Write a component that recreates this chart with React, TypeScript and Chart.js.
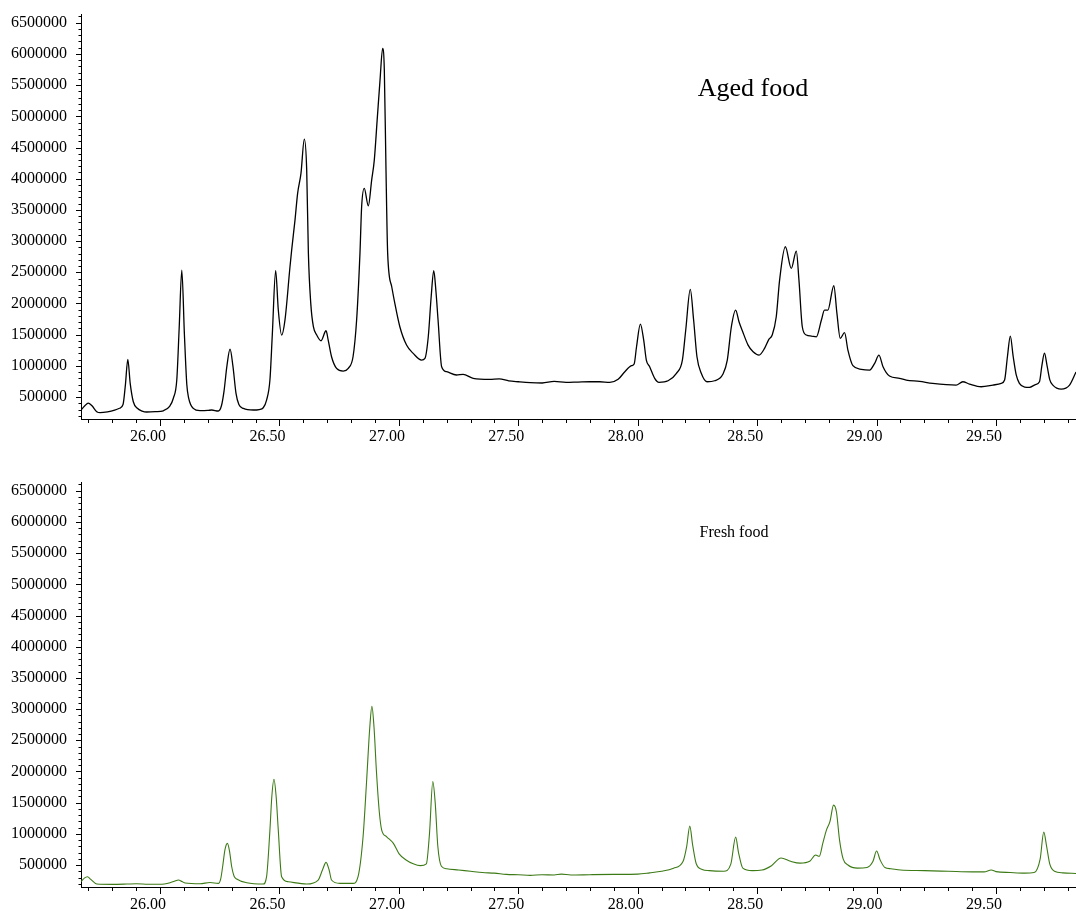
import { useEffect, useRef } from 'react';
import { Chart, registerables } from 'chart.js';

Chart.register(...registerables);

// ---- axes ----
const X_MIN = 25.669;
const X_MAX = 29.835;
const Y_MIN = 148000;
const Y_MAX = 6640000;
const X_TICKS = [26.0, 26.5, 27.0, 27.5, 28.0, 28.5, 29.0, 29.5];
const Y_TICKS = [500000, 1000000, 1500000, 2000000, 2500000, 3000000, 3500000, 4000000, 4500000, 5000000, 5500000, 6000000, 6500000];

// ---- Aged food (top panel) ----
const agedTime = [
  25.669, 25.685, 25.699, 25.715, 25.735, 25.749, 25.78, 25.81, 25.83, 25.845, 25.855, 25.865, 25.875, 25.888, 25.905, 25.925, 25.944, 25.98,
  26.014, 26.04, 26.056, 26.07, 26.08, 26.091, 26.102, 26.112, 26.12, 26.139, 26.167, 26.2, 26.216, 26.244, 26.257, 26.268, 26.28, 26.293,
  26.305, 26.318, 26.33, 26.349, 26.39, 26.415, 26.432, 26.446, 26.46, 26.47, 26.484, 26.495, 26.509, 26.523, 26.544, 26.551, 26.565, 26.576,
  26.59, 26.604, 26.614, 26.621, 26.631, 26.642, 26.656, 26.674, 26.695, 26.704, 26.718, 26.739, 26.767, 26.788, 26.808, 26.823, 26.837,
  26.844, 26.855, 26.872, 26.886, 26.897, 26.909, 26.921, 26.932, 26.939, 26.946, 26.953, 26.97, 26.983, 27.004, 27.032, 27.06, 27.095,
  27.109, 27.123, 27.135, 27.146, 27.155, 27.164, 27.179, 27.2, 27.241, 27.269, 27.311, 27.38, 27.42, 27.46, 27.5, 27.55, 27.6, 27.65, 27.7,
  27.75, 27.8, 27.841, 27.883, 27.918, 27.946, 27.974, 27.985, 27.995, 28.011, 28.025, 28.036, 28.05, 28.071, 28.089, 28.127, 28.162, 28.187,
  28.201, 28.22, 28.234, 28.248, 28.266, 28.29, 28.322, 28.357, 28.375, 28.392, 28.41, 28.424, 28.438, 28.462, 28.483, 28.508, 28.531,
  28.549, 28.563, 28.58, 28.594, 28.618, 28.643, 28.664, 28.675, 28.689, 28.706, 28.727, 28.748, 28.769, 28.782, 28.796, 28.821, 28.834,
  28.848, 28.866, 28.88, 28.901, 28.936, 28.971, 28.992, 29.01, 29.027, 29.054, 29.096, 29.124, 29.18, 29.235, 29.333, 29.361, 29.389,
  29.438, 29.487, 29.522, 29.536, 29.548, 29.56, 29.572, 29.585, 29.598, 29.62, 29.64, 29.665, 29.682, 29.692, 29.703, 29.714, 29.725,
  29.738, 29.773, 29.808, 29.835,
];
const agedSignal = [
  292000, 360000, 404000, 360000, 265000, 249000, 262000, 290000, 320000, 380000, 700000, 1104000, 720000, 425000, 320000, 275000, 260000, 265000,
  280000, 350000, 484000, 772000, 1600000, 2535000, 1500000, 700000, 480000, 318000, 281000, 285000, 292000, 276000, 360000, 600000, 1000000, 1269000,
  1000000, 560000, 380000, 318000, 292000, 300000, 328000, 452000, 772000, 1500000, 2524000, 1900000, 1494000, 1734000, 2588000, 2856000, 3337000, 3764000,
  4085000, 4635000, 4138000, 2808000, 2002000, 1627000, 1494000, 1402000, 1563000, 1413000, 1146000, 960000, 917000, 960000, 1146000, 1734000, 2803000,
  3551000, 3845000, 3566000, 3978000, 4298000, 4939000, 5580000, 6088000, 5740000, 4138000, 2803000, 2268000, 2002000, 1627000, 1333000, 1200000, 1093000,
  1120000, 1466000, 2100000, 2524000, 2200000, 1734000, 986000, 906000, 853000, 864000, 800000, 784000, 790000, 760000, 745000, 730000, 725000, 750000, 735000,
  740000, 745000, 745000, 735000, 784000, 906000, 1002000, 1029000, 1306000, 1670000, 1413000, 1093000, 986000, 800000, 736000, 761000, 880000, 1093000,
  1574000, 2226000, 1734000, 1146000, 880000, 745000, 761000, 869000, 1093000, 1627000, 1894000, 1707000, 1563000, 1333000, 1226000, 1173000, 1280000,
  1424000, 1494000, 1787000, 2375000, 2909000, 2562000, 2840000, 2375000, 1627000, 1494000, 1478000, 1466000, 1734000, 1894000, 1894000, 2284000, 1841000,
  1441000, 1531000, 1253000, 1002000, 944000, 933000, 1040000, 1173000, 986000, 837000, 800000, 772000, 750000, 719000, 692000, 745000, 708000,
  665000, 692000, 719000, 772000, 1150000, 1478000, 1150000, 850000, 720000, 660000, 655000, 700000, 745000, 1000000, 1205000, 1000000, 780000,
  692000, 628000, 692000, 900000,
];

// ---- Fresh food (bottom panel) ----
const freshTime = [
  25.669, 25.683, 25.696, 25.71, 25.735, 25.8, 25.861, 25.9, 25.95, 26.0, 26.042, 26.06, 26.077, 26.092, 26.105, 26.167, 26.209, 26.244, 26.254,
  26.262, 26.272, 26.282, 26.291, 26.3, 26.31, 26.321, 26.363, 26.432, 26.446, 26.46, 26.468, 26.477, 26.486, 26.495, 26.509, 26.537, 26.614,
  26.662, 26.68, 26.695, 26.708, 26.718, 26.753, 26.808, 26.829, 26.85, 26.865, 26.878, 26.887, 26.896, 26.906, 26.918, 26.928, 26.949, 26.977,
  27.001, 27.03, 27.06, 27.09, 27.115, 27.128, 27.142, 27.152, 27.163, 27.178, 27.2, 27.25, 27.3, 27.35, 27.4, 27.45, 27.5, 27.55, 27.6, 27.65,
  27.68, 27.72, 27.8, 27.9, 28.0, 28.05, 28.1, 28.15, 28.19, 28.205, 28.218, 28.23, 28.245, 28.27, 28.3, 28.36, 28.39, 28.41, 28.422, 28.44,
  28.48, 28.52, 28.56, 28.6, 28.64, 28.68, 28.72, 28.745, 28.76, 28.775, 28.79, 28.805, 28.82, 28.832, 28.845, 28.86, 28.88, 28.92, 28.96,
  28.985, 29.0, 29.015, 29.035, 29.06, 29.1, 29.2, 29.3, 29.4, 29.45, 29.48, 29.5, 29.56, 29.62, 29.66, 29.685, 29.7, 29.712, 29.725, 29.745,
  29.78, 29.835,
];
const freshSignal = [
  233000, 290000, 313000, 270000, 196000, 190000, 195000, 200000, 192000, 191000, 217000, 240000, 260000, 235000, 212000, 201000, 220000, 206000, 280000,
  473000, 750000, 847000, 720000, 473000, 320000, 276000, 217000, 196000, 313000, 1060000, 1600000, 1876000, 1600000, 1060000, 313000, 233000, 196000,
  260000, 420000, 543000, 420000, 260000, 206000, 206000, 313000, 953000, 1860000, 2700000, 3044000, 2700000, 2000000, 1350000, 1060000, 953000, 847000,
  680000, 580000, 520000, 490000, 520000, 1000000, 1840000, 1500000, 800000, 480000, 440000, 420000, 400000, 380000, 370000, 350000, 345000, 335000, 345000, 340000,
  355000, 340000, 345000, 350000, 355000, 375000, 400000, 450000, 560000, 800000, 1124000, 820000, 520000, 430000, 410000, 400000, 520000, 948000, 700000, 450000,
  410000, 420000, 490000, 612000, 560000, 530000, 560000, 660000, 640000, 850000, 1060000, 1200000, 1460000, 1350000, 900000, 600000, 500000, 450000, 460000,
  560000, 724000, 580000, 460000, 440000, 420000, 410000, 400000, 390000, 390000, 420000, 395000, 380000, 370000, 380000, 600000, 1028000, 800000, 520000, 400000,
  375000, 365000,
];

const FONT = 'Liberation Serif';

const axisTicksPlugin = {
  id: 'axisTicks',
  afterDraw(chart: any) {
    const { ctx } = chart;
    const xs = chart.scales.x;
    const ys = chart.scales.y;
    ctx.save();
    ctx.strokeStyle = '#000';
    ctx.lineWidth = 1;
    ctx.beginPath();
    for (let i = 257; i <= 298; i++) {
      const v = i / 10;
      if (v < X_MIN || v > X_MAX) continue;
      const px = Math.round(xs.getPixelForValue(v)) + 0.5;
      const len = i % 5 === 0 ? 7 : 4;
      ctx.moveTo(px, xs.top);
      ctx.lineTo(px, xs.top + len);
    }
    for (let i = 2; i <= 66; i++) {
      const v = i * 100000;
      if (v < Y_MIN || v > Y_MAX) continue;
      const py = Math.round(ys.getPixelForValue(v)) + 0.5;
      const len = i % 5 === 0 ? 5 : 2.5;
      ctx.moveTo(ys.right, py);
      ctx.lineTo(ys.right - len, py);
    }
    ctx.stroke();
    ctx.restore();
  },
};

const labelPlugin = {
  id: 'panelLabel',
  afterDraw(chart: any, _args: any, opts: any) {
    const { ctx } = chart;
    ctx.save();
    ctx.fillStyle = '#000';
    ctx.font = `${opts.size}px "${FONT}"`;
    ctx.textAlign = 'center';
    ctx.textBaseline = 'alphabetic';
    ctx.fillText(opts.text, opts.x, opts.y);
    ctx.restore();
  },
};

function makeConfig(times: number[], values: number[], color: string, width: number, topPad: number, bottomSpace: number, label: any) {
  const data = times.map((t, i) => ({ x: t, y: values[i] }));
  return {
    type: 'line',
    data: {
      datasets: [
        {
          data,
          borderColor: color,
          borderWidth: width,
          pointRadius: 0,
          fill: false,
          cubicInterpolationMode: 'monotone',
        },
      ],
    },
    options: {
      responsive: false,
      animation: false,
      devicePixelRatio: 1,
      layout: { padding: { top: topPad, left: 0, right: 0, bottom: 0 } },
      plugins: {
        legend: { display: false },
        tooltip: { enabled: false },
        panelLabel: label,
      },
      scales: {
        x: {
          type: 'linear',
          min: X_MIN,
          max: X_MAX,
          position: 'bottom',
          grid: { display: false, drawTicks: false },
          border: { display: true, color: '#000', width: 1 },
          ticks: {
            autoSkip: false,
            maxRotation: 0,
            padding: 8,
            labelOffset: -12,
            color: '#000',
            font: { family: FONT, size: 16 },
            callback: (v: any) => Number(v).toFixed(2),
          },
          afterBuildTicks: (s: any) => {
            s.ticks = X_TICKS.map((v) => ({ value: v }));
          },
          afterFit: (s: any) => {
            s.height = bottomSpace;
            s.paddingLeft = 0;
            s.paddingRight = 0;
          },
        },
        y: {
          type: 'linear',
          min: Y_MIN,
          max: Y_MAX,
          position: 'left',
          grid: { display: false, drawTicks: false },
          border: { display: true, color: '#000', width: 1 },
          ticks: {
            autoSkip: false,
            padding: 14,
            color: '#000',
            font: { family: FONT, size: 16 },
            callback: (v: any) => String(v),
          },
          afterBuildTicks: (s: any) => {
            s.ticks = Y_TICKS.map((v) => ({ value: v }));
          },
          afterFit: (s: any) => {
            s.width = 81;
            s.paddingTop = 0;
            s.paddingBottom = 0;
          },
        },
      },
    },
    plugins: [axisTicksPlugin, labelPlugin],
  };
}

export default function App() {
  const topRef = useRef<HTMLCanvasElement | null>(null);
  const botRef = useRef<HTMLCanvasElement | null>(null);

  useEffect(() => {
    const c1 = new Chart(
      topRef.current as HTMLCanvasElement,
      makeConfig(agedTime, agedSignal, '#000000', 1.3, 14, 36, { text: 'Aged food', x: 753, y: 96, size: 26 }) as any
    );
    const c2 = new Chart(
      botRef.current as HTMLCanvasElement,
      makeConfig(freshTime, freshSignal, '#3c7a16', 1.1, 27, 24, { text: 'Fresh food', x: 734, y: 82, size: 16 }) as any
    );
    return () => {
      c1.destroy();
      c2.destroy();
    };
  }, []);

  return (
    <div style={{ position: 'absolute', left: 0, top: 0, width: 1076, height: 911, background: '#fff' }}>
      <canvas ref={topRef} width={1076} height={455} style={{ position: 'absolute', left: 0, top: 0, width: 1076, height: 455 }} />
      <canvas ref={botRef} width={1076} height={456} style={{ position: 'absolute', left: 0, top: 455, width: 1076, height: 456 }} />
    </div>
  );
}
